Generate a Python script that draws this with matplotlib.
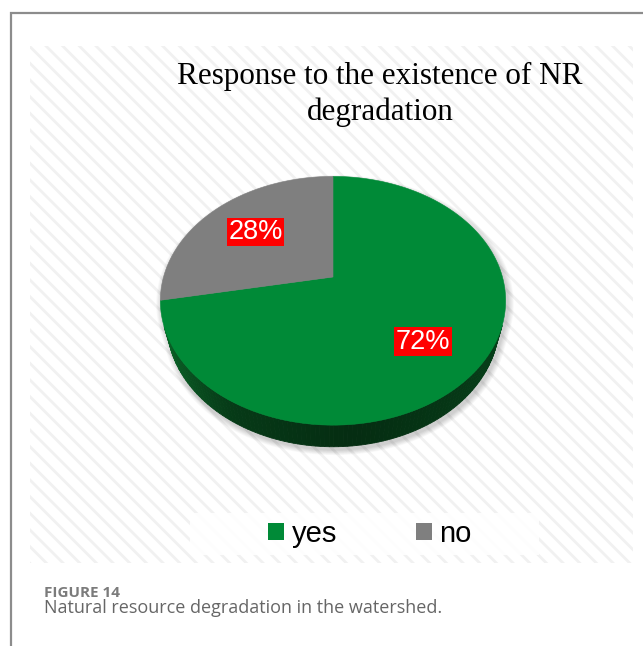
import matplotlib.pyplot as plt
import numpy as np
from matplotlib.colors import to_rgb
from matplotlib.patches import Patch, Polygon, Rectangle

categories = ["yes", "no"]
shares = [72, 28]
top_colors = ["#008a37", "#7f7f7f"]
side_colors = ["#0b6a2a", "#5c5c5c"]
title_lines = ["Response to the existence of NR", "degradation"]
caption_head = "FIGURE 14"
caption_text = "Natural resource degradation in the watershed."

W, H = 643, 646
plt.rcParams["hatch.linewidth"] = 2.0

fig = plt.figure(figsize=(W / 100, H / 100), dpi=100)
ax = fig.add_axes([0, 0, 1, 1])
ax.set_xlim(0, W)
ax.set_ylim(H, 0)
ax.axis("off")

# page frame
ax.plot([11, 11, W], [H, 13, 13], color="#8c8c8c", lw=1.6, solid_joinstyle="miter")

# striped chart area
ax.add_patch(Rectangle((30, 46), 603, 517, facecolor="white", edgecolor="#f1f1f1",
                       hatch="\\\\", lw=0, zorder=0))

# title
for line, base in zip(title_lines, [84, 120]):
    ax.text(380, base, line, ha="center", va="baseline", fontsize=22.4,
            family="Liberation Serif", color="black")

# 3d pie: perspective view of a flat disc
elev = np.radians(45)
dist = 3.7
thick = 0.2
scale = 627
cx, cy = 333, 277


def project(X, Y, Z):
    c, s = np.cos(elev), np.sin(elev)
    depth = dist + Y * c - Z * s
    return cx + scale * X / depth, cy - scale * (Y * s + Z * c) / depth


def hull(pts):
    pts = sorted(map(tuple, pts))

    def half(seq):
        out = []
        for p in seq:
            while len(out) >= 2 and ((out[-1][0] - out[-2][0]) * (p[1] - out[-2][1])
                                     - (out[-1][1] - out[-2][1]) * (p[0] - out[-2][0])) <= 0:
                out.pop()
            out.append(p)
        return out

    lo, up = half(pts), half(pts[::-1])
    return np.array(lo[:-1] + up[:-1])


fracs = np.array(shares) / sum(shares)
bounds = 90 - 360 * np.concatenate([[0], np.cumsum(fracs)])

# soft shadow
th = np.radians(np.linspace(0, 360, 181))
sx_t, sy_t = project(np.cos(th), np.sin(th), 0 * th)
sx_b, sy_b = project(np.cos(th), np.sin(th), -thick + 0 * th)
outline = hull(np.column_stack([np.r_[sx_t, sx_b], np.r_[sy_t, sy_b]]))
ocx, ocy = outline.mean(axis=0)
for k in range(8, 0, -1):
    grow = 1 + 0.0045 * k
    pts = np.column_stack([ocx + (outline[:, 0] - ocx) * grow + 2,
                           ocy + (outline[:, 1] - ocy) * grow + 3])
    ax.add_patch(Polygon(pts, closed=True, facecolor="#000000", alpha=0.025, lw=0, zorder=1))

# outer wall, front-facing pieces only
quads = []
for i, (a0, a1) in enumerate(zip(bounds[:-1], bounds[1:])):
    angs = np.linspace(a0, a1, 200)
    for t0, t1 in zip(angs[:-1], angs[1:]):
        tm = np.radians((t0 + t1) / 2)
        if -1 - dist * np.cos(elev) * np.sin(tm) <= 0:
            continue
        r0, r1 = np.radians(t0), np.radians(t1)
        xs, ys = project(np.array([np.cos(r0), np.cos(r1), np.cos(r1), np.cos(r0)]),
                         np.array([np.sin(r0), np.sin(r1), np.sin(r1), np.sin(r0)]),
                         np.array([0, 0, -thick, -thick]))
        deg = np.degrees(tm) % 360
        shade = np.interp(deg, [200, 240, 275, 340], [1.0, 0.55, 0.42, 0.62])
        rgb = np.array(to_rgb(side_colors[i])) * shade
        quads.append((np.sin(tm), np.column_stack([xs, ys]), rgb))
for _, pts, rgb in sorted(quads, key=lambda q: -q[0]):
    ax.add_patch(Polygon(pts, closed=True, facecolor=rgb, edgecolor=rgb, lw=0.6, zorder=2))

# top faces
for i, (a0, a1) in enumerate(zip(bounds[:-1], bounds[1:])):
    angs = np.radians(np.linspace(a0, a1, 200))
    X = np.r_[0, np.cos(angs)]
    Y = np.r_[0, np.sin(angs)]
    xs, ys = project(X, Y, 0 * X)
    ax.add_patch(Polygon(np.column_stack([xs, ys]), closed=True, facecolor=top_colors[i],
                         edgecolor=top_colors[i], lw=0.4, zorder=3))

# percentage labels (front slice label sits a little lower)
label_drop = [12, 0]
for i, (a0, a1) in enumerate(zip(bounds[:-1], bounds[1:])):
    mid = np.radians((a0 + a1) / 2)
    lx, ly = project(0.636 * np.cos(mid), 0.636 * np.sin(mid), 0)
    ax.text(lx, ly + label_drop[i], f"{shares[i]}%", ha="center", va="center",
            fontsize=19.5, family="Liberation Sans", color="white", zorder=5,
            bbox=dict(boxstyle="square,pad=0.05", facecolor="#ff0000", edgecolor="none"))

# legend
ax.add_patch(Rectangle((190, 513), 349, 42, facecolor="white", alpha=0.9, lw=0, zorder=4))
handles = [Patch(facecolor=c, edgecolor="none") for c in top_colors]
ax.legend(handles, categories, loc="center", bbox_to_anchor=(370, 534),
          bbox_transform=ax.transData, ncol=2, frameon=False,
          prop={"family": "Liberation Sans", "size": 21}, handlelength=0.55,
          handleheight=0.55, handletextpad=0.25, columnspacing=2.7, borderpad=0)

# caption
ax.text(44, 597, caption_head, ha="left", va="baseline", fontsize=11,
        family="Open Sans", weight="bold", color="#7b7b7b")
ax.text(44, 613, caption_text, ha="left", va="baseline", fontsize=13,
        family="Open Sans", color="#666666")

fig.savefig("out.png", dpi=100)
